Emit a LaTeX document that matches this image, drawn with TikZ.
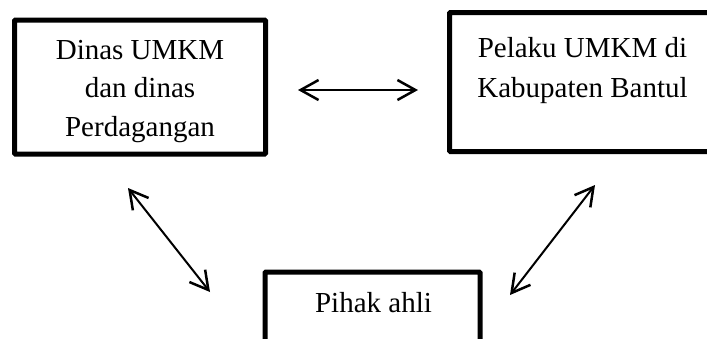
\documentclass[tikz,border=0pt]{standalone}
\usepackage{fontspec}
\setmainfont{Liberation Serif}
\usetikzlibrary{arrows.meta}
\begin{document}
\begin{tikzpicture}[x=1pt,y=-1pt,
  box/.style={draw=black, line width=5pt, rectangle, rounded corners=1pt, inner sep=0pt},
  lbl/.style={anchor=base, inner sep=0pt, font=\fontsize{29}{38}\selectfont},
  tip/.style={},
  link/.style={line width=2pt, {Straight Barb[length=18pt,width=20pt,line width=2.5pt]}-{Straight Barb[length=18pt,width=20pt,line width=2.5pt]}}
]
\useasboundingbox (0,0) rectangle (707,338);
\clip (0,0) rectangle (707,338);
% boxes
\node[box, minimum width=251pt, minimum height=134pt] (dinas) at (140,87) {};
\node[box, minimum width=266pt, minimum height=139pt] (pelaku) at (582.5,82) {};
\node[box, minimum width=215pt, minimum height=140pt] (ahli) at (372.5,342) {};
% texts
\node[lbl] (d1) at (140,59) {Dinas UMKM};
\node[lbl] (d2) at (140,97.5) {dan dinas};
\node[lbl] (d3) at (140,136) {Perdagangan};
\node[lbl] (p1) at (582.5,57) {Pelaku UMKM di};
\node[lbl] (p2) at (582.5,97.5) {Kabupaten Bantul};
\node[lbl] (a1) at (373.5,312) {Pihak ahli};
% connector ends
\coordinate (hL) at (298,90);
\coordinate (hR) at (418,90);
\coordinate (lU) at (128,188);
\coordinate (lD) at (210,292);
\coordinate (rU) at (595,185);
\coordinate (rD) at (510,295);
\draw[link] (hL) -- (hR);
\draw[link] (lU) -- (lD);
\draw[link] (rD) -- (rU);
\end{tikzpicture}
\end{document}
